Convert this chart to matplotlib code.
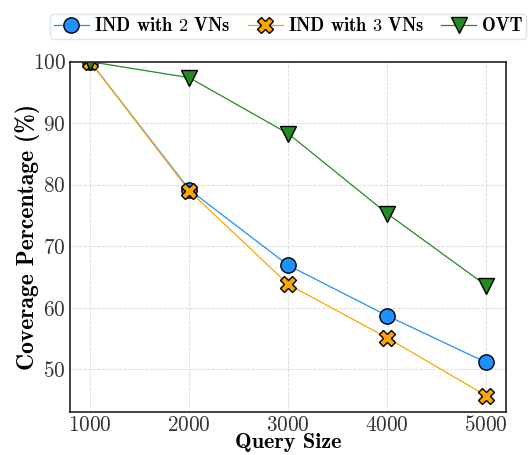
import matplotlib
matplotlib.use("Agg")
import matplotlib.pyplot as plt

plt.rcParams['font.family'] = 'cmr10'
plt.rcParams['mathtext.fontset'] = 'cm'
plt.rcParams['axes.formatter.use_mathtext'] = True

# coverage results per query size
query_sizes = [1000, 2000, 3000, 4000, 5000]
ind_2vn = [100.0, 79.2, 66.9, 58.7, 51.1]
ind_3vn = [100.0, 79.0, 63.8, 55.1, 45.7]
ovt = [100.0, 97.4, 88.3, 75.3, 63.6]

fig = plt.figure(figsize=(5.29, 4.55), dpi=100)
ax = fig.add_axes([0.1323, 0.0938, 0.8247, 0.7706])

ax.plot(query_sizes, ind_2vn, color='#1e90ff', lw=0.9, marker='o', ms=11,
        mfc='#1e90ff', mec='black', mew=1.0, label=r'IND with $2$ VNs')
ax.plot(query_sizes, ind_3vn, color='#ffa500', lw=0.9, marker='X', ms=11,
        mfc='#ffa500', mec='black', mew=1.0, label=r'IND with $3$ VNs')
ax.plot(query_sizes, ovt, color='#228b22', lw=0.9, marker='v', ms=11,
        mfc='#228b22', mec='black', mew=1.0, label='OVT')

ax.set_xlim(795, 5202)
ax.set_ylim(43, 100)
ax.set_xticks(query_sizes)
ax.set_yticks([50, 60, 70, 80, 90, 100])
ax.grid(True, linestyle='--', color='#d8d8d8', lw=0.6)
ax.set_axisbelow(True)

for s in ax.spines.values():
    s.set_color('#222222')
    s.set_linewidth(1.2)
ax.tick_params(labelsize=15.3, labelcolor='#333333', length=0, pad=3)
ax.tick_params(axis='x', pad=2)

ax.set_xlabel('Query Size', fontsize=16, family='cmb10', labelpad=-1.5)
ax.set_ylabel('Coverage Percentage (%)', fontsize=17, family='cmb10', labelpad=-5)

fig.legend(loc='lower left', bbox_to_anchor=(50 / 529, 1 - 39 / 455), ncol=3,
           prop={'family': 'cmb10', 'size': 13.3}, handlelength=1.9,
           columnspacing=0.9, handletextpad=0.3, borderaxespad=0, borderpad=0.2,
           frameon=True, edgecolor='#dddddd', fancybox=True)

fig.savefig('out.png', dpi=100)
